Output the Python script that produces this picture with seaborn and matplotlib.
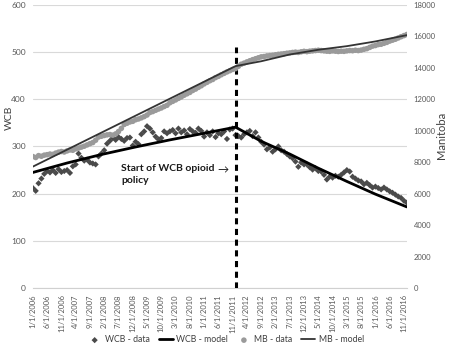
import numpy as np
import pandas as pd
import matplotlib
matplotlib.use("Agg")
import matplotlib.pyplot as plt
import seaborn as sns

# monthly series, Jan 2006 - Dec 2016
months = pd.date_range("2006-01-01", "2016-12-01", freq="MS")
month_labels = [f"{d.month}/1/{d.year}" for d in months]
policy_month = 71  # 12/1/2011

# WCB monthly counts (left axis)
wcb_data = [
    212, 206, 222, 232, 242, 248, 245, 250, 244, 252, 246, 248,
    250, 244, 258, 262, 285, 276, 270, 272, 266, 264, 262, 279,
    285, 292, 306, 312, 318, 314, 320, 316, 312, 318, 319, 302,
    310, 305, 326, 332, 343, 338, 330, 321, 315, 318, 332, 328,
    332, 335, 328, 338, 330, 334, 326, 337, 332, 329, 338, 333,
    321, 330, 324, 332, 320, 328, 326, 332, 316, 336, 338, 324,
    322, 319, 326, 330, 333, 322, 330, 319, 310, 304, 294, 298,
    289, 294, 300, 292, 289, 284, 279, 275, 268, 257, 266, 262,
    262, 256, 251, 254, 248, 247, 240, 230, 236, 234, 238, 236,
    240, 245, 250, 247, 236, 232, 228, 226, 220, 223, 218, 213,
    215, 212, 209, 213, 209, 205, 202, 198, 194, 191, 185, 181,
]

# Manitoba monthly counts (right axis)
mb_data = [
    8360, 8300, 8420, 8380, 8450, 8480, 8520, 8500, 8580, 8640, 8680, 8650,
    8720, 8780, 8760, 8850, 8900, 8960, 9020, 9100, 9180, 9250, 9400, 9600,
    9650, 9700, 9740, 9760, 9720, 9800, 9950, 10150, 10400, 10480, 10560, 10600,
    10700, 10750, 10820, 10900, 11000, 11160, 11220, 11300, 11380, 11450, 11540, 11620,
    11780, 11870, 11960, 12060, 12150, 12260, 12350, 12440, 12560, 12650, 12760, 12860,
    12980, 13080, 13180, 13260, 13380, 13460, 13560, 13650, 13740, 13820, 13900, 13950,
    14100, 14230, 14300, 14380, 14450, 14520, 14580, 14640, 14700, 14720, 14760, 14780,
    14800, 14830, 14860, 14880, 14900, 14930, 14950, 14980, 15000, 14980, 15020, 15050,
    15030, 15060, 15080, 15100, 15120, 15100, 15080, 15060, 15050, 15080, 15060, 15040,
    15060, 15050, 15080, 15100, 15090, 15120, 15100, 15130, 15180, 15220, 15300, 15380,
    15420, 15480, 15500, 15560, 15620, 15700, 15760, 15820, 15900, 15980, 16050, 16120,
]

# fitted model values read at selected months
model_months = [0, 12, 24, 36, 48, 60, 71, 80, 90, 100, 110, 120, 131]
wcb_model = [245, 265, 283, 299, 314, 328, 341, 311, 284, 254, 226, 199, 172]
mb_model = [7720, 8800, 9880, 10960, 12040, 13120, 14110, 14420, 14850, 15150, 15380, 15680, 16080]

sns.set_style("white")
plt.rcParams["font.family"] = ["Lato", "DejaVu Sans"]

fig, ax = plt.subplots(figsize=(4.5, 3.53), dpi=100)
fig.subplots_adjust(left=0.073, right=0.904, top=0.986, bottom=0.184)
ax2 = ax.twinx()

idx = np.arange(len(months))

sns.scatterplot(x=idx, y=wcb_data, ax=ax, marker="D", s=10, color="#4a4a4a",
                edgecolor="none", label="WCB - data", zorder=3)
sns.lineplot(x=model_months, y=wcb_model, ax=ax, color="black", lw=2.0,
             label="WCB - model", zorder=4)
sns.scatterplot(x=idx, y=mb_data, ax=ax2, marker="o", s=16, color="#9a9a9a",
                edgecolor="none", label="MB - data", zorder=3)
sns.lineplot(x=model_months, y=mb_model, ax=ax2, color="#333333", lw=1.3,
             label="MB - model", zorder=4)

# policy marker
ax.vlines(policy_month, 0, 510, colors="black", linestyles=(0, (2, 1.5)), lw=2.2, zorder=5)
ax.text(31, 262, "Start of WCB opioid\npolicy", fontsize=7.5, fontweight="bold",
        ha="left", va="top", linespacing=1.35, color="#1a1a1a")
ax.text(66.5, 251, "\u2192", fontsize=8, ha="center", va="center", color="#1a1a1a")

# axes styling
ax.set_xlim(0, 131)
ax.set_ylim(0, 600)
ax2.set_ylim(0, 18000)
ax.set_xticks(idx[::5])
ax.set_xticklabels(month_labels[::5], rotation=90, fontsize=5.5, color="#595959")
ax.set_yticks(range(0, 601, 100))
ax2.set_yticks(range(0, 18001, 2000))
ax.tick_params(axis="x", length=2.5, color="#d0d0d0", pad=2)
ax.tick_params(axis="y", length=0, labelsize=6, labelcolor="#595959", pad=5)
ax2.tick_params(axis="y", length=0, labelsize=5.5, labelcolor="#595959", pad=5)

ax.set_axisbelow(True)
ax.yaxis.grid(True, color="#d9d9d9", lw=0.8)
ax.xaxis.grid(False)
for s in ["top", "left", "right"]:
    ax.spines[s].set_visible(False)
ax.spines["bottom"].set_color("#d0d0d0")
for s in ax2.spines.values():
    s.set_visible(False)

ax.set_xlabel("")
ax.set_ylabel("WCB", fontsize=7.5, color="#404040")
ax.yaxis.set_label_coords(-0.05, 0.60)
ax2.set_ylabel("Manitoba", fontsize=8, color="#404040", rotation=90)
ax2.yaxis.set_label_coords(1.078, 0.54)

h1, l1 = ax.get_legend_handles_labels()
h2, l2 = ax2.get_legend_handles_labels()
if ax.get_legend() is not None:
    ax.get_legend().remove()
if ax2.get_legend() is not None:
    ax2.get_legend().remove()
fig.legend(h1 + h2, l1 + l2, loc="center", bbox_to_anchor=(0.502, 0.037), ncol=4,
           frameon=False, fontsize=6.3, handlelength=1.6, handletextpad=0.4,
           columnspacing=1.0, labelcolor="#404040")

fig.savefig("out.png", dpi=100)
